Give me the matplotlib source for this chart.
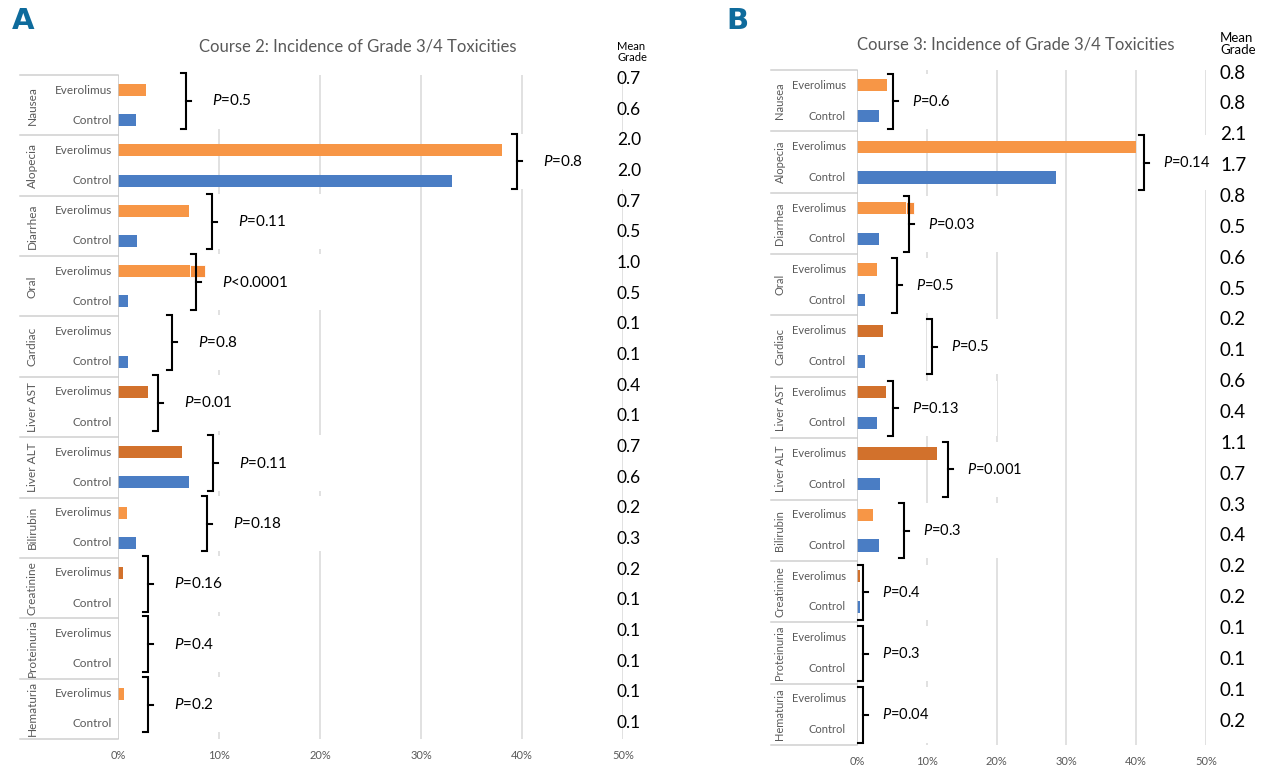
import matplotlib
matplotlib.use("Agg")
import matplotlib.pyplot as plt
from matplotlib.patches import Rectangle

plt.rcParams["font.family"] = ["Lato", "DejaVu Sans"]
plt.rcParams["mathtext.fontset"] = "custom"
plt.rcParams["mathtext.it"] = "Lato:italic"
plt.rcParams["mathtext.rm"] = "Lato"

categories = ["Nausea", "Alopecia", "Diarrhea", "Oral", "Cardiac", "Liver AST",
              "Liver ALT", "Bilirubin", "Creatinine", "Proteinuria", "Hematuria"]
ticks = [0, 10, 20, 30, 40, 50]

# course 2 (% of patients with grade 3/4 toxicity)
c2_everolimus = [2.8, 38.0, 7.0, 7.1, 0.0, 3.0, 6.3, 0.9, 0.5, 0.0, 0.6]
c2_everolimus_extra = [0, 0, 0, 1.5, 0, 0, 0, 0, 0, 0, 0]
c2_control = [1.8, 33.1, 1.9, 1.0, 1.0, 0.0, 7.0, 1.8, 0.0, 0.0, 0.0]
c2_pvalues = ["=0.5", "=0.8", "=0.11", "<0.0001", "=0.8", "=0.01", "=0.11",
              "=0.18", "=0.16", "=0.4", "=0.2"]
c2_grade_everolimus = [0.7, 2.0, 0.7, 1.0, 0.1, 0.4, 0.7, 0.2, 0.2, 0.1, 0.1]
c2_grade_control = [0.6, 2.0, 0.5, 0.5, 0.1, 0.1, 0.6, 0.3, 0.1, 0.1, 0.1]

# course 3
c3_everolimus = [4.3, 40.0, 7.0, 2.9, 3.7, 4.2, 11.5, 2.3, 0.4, 0.0, 0.0]
c3_everolimus_extra = [0, 0, 1.1, 0, 0, 0, 0, 0, 0, 0, 0]
c3_control = [3.2, 28.5, 3.2, 1.1, 1.1, 2.8, 3.3, 3.2, 0.4, 0.0, 0.0]
c3_pvalues = ["=0.6", "=0.14", "=0.03", "=0.5", "=0.5", "=0.13", "=0.001",
              "=0.3", "=0.4", "=0.3", "=0.04"]
c3_grade_everolimus = [0.8, 2.1, 0.8, 0.6, 0.2, 0.6, 1.1, 0.3, 0.2, 0.1, 0.1]
c3_grade_control = [0.8, 1.7, 0.5, 0.5, 0.1, 0.4, 0.7, 0.4, 0.2, 0.1, 0.2]

ORANGE = "#F79646"
DARK_ORANGE = "#D2712C"
BLUE = "#4A7DC4"
GRAY = "#595959"

W, H = 1265, 765


def add_px_axes(fig, left, right, top, bottom):
    return fig.add_axes([left / W, 1 - bottom / H, (right - left) / W, (bottom - top) / H])


def draw_panel(ax, width_px, everolimus, extra, control, dark, pvalues, bracket_x,
               grade_e, grade_c, st):
    ppp = width_px / 50.0  # pixels per percent
    n = len(categories)
    ax.set_xlim(0, 50)
    ax.set_ylim(n, 0)
    for s in ax.spines.values():
        s.set_visible(False)
    ax.set_yticks([])
    ax.set_xticks(ticks)
    ax.set_xticklabels([f"{t}%" for t in ticks])
    ax.tick_params(axis="x", length=0, labelsize=st["tick"], colors=GRAY, pad=st["tickpad"])
    for t in ticks[1:]:
        ax.axvline(t, color="#d9d9d9", lw=1.1, zorder=0)
    ax.axvline(0, color="#c8c8c8", lw=1.1, zorder=3)

    for i, cat in enumerate(categories):
        ye, yc = i + 0.25, i + 0.75
        ax.barh(ye, everolimus[i], height=0.2, color=DARK_ORANGE if dark[i] else ORANGE, zorder=2)
        if extra[i]:
            ax.barh(ye, extra[i], left=everolimus[i], height=0.2, color="#F48C3C",
                    edgecolor="white", lw=0.6, zorder=2)
        ax.barh(yc, control[i], height=0.2, color=BLUE, zorder=2)

        ax.text(-st["lab"] / ppp, ye, "Everolimus", ha="right", va="center",
                fontsize=st["lab_fs"], color=GRAY, clip_on=False)
        ax.text(-st["lab"] / ppp, yc, "Control", ha="right", va="center",
                fontsize=st["lab_fs"], color=GRAY, clip_on=False)
        ax.text(-st["cat"] / ppp, i + 0.5, cat, rotation=90, ha="center", va="center",
                fontsize=st["lab_fs"], color=GRAY, clip_on=False)
        ax.plot([-st["sep"] / ppp, 0], [i, i], color="#d0d0d0", lw=1.1, clip_on=False)

        # bracket + p value
        bx = bracket_x[i]
        top, bot = i + st["btop"], i + st["bbot"]
        mid = (top + bot) / 2
        arm = 5 / ppp
        label = r"$\mathit{P}$" + pvalues[i]
        box_w = (st["txt"] + len(label) * st["pfs"] * 0.5) / ppp
        ax.add_patch(Rectangle((bx - arm, top), box_w, bot - top, facecolor="white",
                               edgecolor="none", zorder=1))
        ax.plot([bx - arm, bx, bx, bx - arm], [top, top, bot, bot], color="black",
                lw=1.5, solid_joinstyle="miter", zorder=4, clip_on=False)
        ax.plot([bx, bx + arm], [mid, mid], color="black", lw=1.5, zorder=4, clip_on=False)
        ax.text(bx + st["txt"] / ppp, mid, label, ha="left", va="center",
                fontsize=st["pfs"], color="black", zorder=5)
    ax.plot([-st["sep"] / ppp, 0], [n, n], color="#d0d0d0", lw=1.1, clip_on=False)

    # mean grade column
    for i in range(n):
        for k, g in ((2 * i, grade_e[i]), (2 * i + 1, grade_c[i])):
            ax.text(st["gx"], st["g0"] + k * st["gdy"], f"{g:.1f}", ha="left", va="center",
                    fontsize=st["gfs"], color="black", clip_on=False, zorder=5)


fig = plt.figure(figsize=(12.65, 7.65), dpi=100)

# panel A
axA = add_px_axes(fig, 118, 623, 75, 739)
styleA = dict(tick=8, tickpad=8, lab=6, cat=86, sep=98, lab_fs=8.5, btop=-0.03, bbot=0.89,
              txt=26, pfs=11, gx=49.4, g0=0.066, gdy=0.508, gfs=12.5)
draw_panel(axA, 505, c2_everolimus, c2_everolimus_extra, c2_control,
           [False, False, False, False, False, True, True, False, True, False, False],
           c2_pvalues, [6.7, 39.5, 9.3, 7.7, 5.3, 4.0, 9.4, 8.8, 3.0, 3.0, 3.0],
           c2_grade_everolimus, c2_grade_control, styleA)

# panel B
axB = add_px_axes(fig, 857, 1206, 70, 745)
styleB = dict(tick=8, tickpad=8, lab=11, cat=77, sep=86, lab_fs=8, btop=0.06, bbot=0.96,
              txt=19, pfs=10.5, gx=52.0, g0=0.049, gdy=0.503, gfs=13.5)
draw_panel(axB, 349, c3_everolimus, c3_everolimus_extra, c3_control,
           [False, False, False, False, True, True, True, False, True, False, False],
           c3_pvalues, [5.2, 41.1, 7.4, 5.7, 10.7, 5.2, 13.0, 6.7, 0.86, 0.86, 0.86],
           c3_grade_everolimus, c3_grade_control, styleB)

# titles, headers, panel letters
fig.text(358 / W, 1 - 46 / H, "Course 2: Incidence of Grade 3/4 Toxicities", ha="center",
         va="center", fontsize=12, color=GRAY)
fig.text(1016 / W, 1 - 44 / H, "Course 3: Incidence of Grade 3/4 Toxicities", ha="center",
         va="center", fontsize=12, color=GRAY)
fig.text(617 / W, 1 - 52 / H, "Mean\nGrade", ha="left", va="center", fontsize=8,
         color="black", linespacing=1.0)
fig.text(1220 / W, 1 - 44 / H, "Mean\nGrade", ha="left", va="center", fontsize=9.5,
         color="black", linespacing=1.05)
for letter, x, y in (("A", 12, 21), ("B", 726, 21)):
    fig.text(x / W, 1 - y / H, letter, ha="left", va="center", fontsize=21,
             fontweight="bold", color="#0E6B9C",
             family=["Liberation Sans Narrow", "DejaVu Sans"])

fig.savefig("out.png", dpi=100)
